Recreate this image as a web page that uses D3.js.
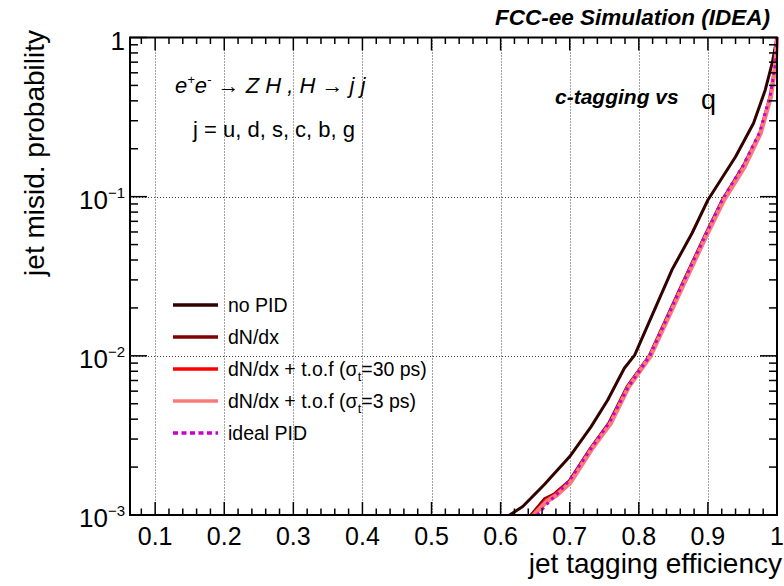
<!DOCTYPE html>
<html>
<head>
<meta charset="utf-8">
<script src="https://cdn.jsdelivr.net/npm/d3@7"></script>
<style>
  body { margin: 0; background: #fff; }
  svg { display: block; font-family: "Liberation Sans", Arial, sans-serif; }
</style>
</head>
<body>
<svg class="js-render-chart" width="784" height="586"></svg>
<script>
"use strict";

//data: [jet tagging efficiency, jet misid. probability]

const noPid = [[0.613, 1.0e-3], [0.632, 1.13e-3], [0.663, 1.55e-3], [0.700, 2.33e-3], [0.731, 3.59e-3], [0.755, 5.28e-3], [0.779, 8.36e-3], [0.794, 1.01e-2], [0.848, 3.47e-2], [0.877, 5.89e-2], [0.900, 9.53e-2], [0.940, 0.178], [0.966, 0.289], [0.983, 0.468], [0.993, 0.689], [1.0, 1.0]];
const dNdx = [[0.644, 1.0e-3], [0.664, 1.27e-3], [0.678, 1.36e-3], [0.699, 1.63e-3], [0.730, 2.62e-3], [0.757, 3.80e-3], [0.783, 6.40e-3], [0.815, 1.0e-2], [0.861, 2.72e-2], [0.895, 5.63e-2], [0.921, 9.55e-2], [0.951, 0.155], [0.975, 0.251], [0.990, 0.425], [0.998, 0.689], [1.0, 1.0]];
const tof30 = [[0.646, 1.0e-3], [0.666, 1.25e-3], [0.679, 1.35e-3], [0.700, 1.62e-3], [0.731, 2.63e-3], [0.758, 3.78e-3], [0.784, 6.41e-3], [0.816, 1.0e-2], [0.862, 2.71e-2], [0.896, 5.61e-2], [0.922, 9.53e-2], [0.952, 0.155], [0.976, 0.250], [0.991, 0.425], [0.998, 0.689], [1.0, 1.0]];
const tof3 = [[0.648, 1.0e-3], [0.667, 1.22e-3], [0.681, 1.33e-3], [0.701, 1.60e-3], [0.732, 2.60e-3], [0.759, 3.75e-3], [0.785, 6.35e-3], [0.817, 1.0e-2], [0.863, 2.70e-2], [0.897, 5.60e-2], [0.923, 9.50e-2], [0.953, 0.154], [0.976, 0.249], [0.991, 0.424], [0.998, 0.688], [1.0, 1.0]];
const idealPid = [[0.653, 1.0e-3], [0.670, 1.21e-3], [0.685, 1.40e-3], [0.701, 1.68e-3], [0.731, 2.62e-3], [0.758, 3.85e-3], [0.784, 6.30e-3], [0.816, 1.0e-2], [0.862, 2.75e-2], [0.896, 5.65e-2], [0.921, 9.6e-2], [0.951, 0.157], [0.975, 0.254], [0.990, 0.43], [0.998, 0.69], [1.0, 1.0]];

const seriesNames = ["no PID", "dN/dx", "dN/dx + t.o.f (σ_t=30 ps)", "dN/dx + t.o.f (σ_t=3 ps)", "ideal PID"];
const seriesData = [noPid, dNdx, tof30, tof3, idealPid];
const seriesColors = ["#330000", "#7f0000", "#ff0000", "#fa7a7a", "#cc00cc"];

const xTicks = [0.1, 0.2, 0.3, 0.4, 0.5, 0.6, 0.7, 0.8, 0.9, 1];
const yTicks = [1e-3, 1e-2, 1e-1, 1];

//params

const m = { l: 130, r: 777, t: 37.5, b: 515 };

const x = d3.scaleLinear().domain([0.0636, 1]).range([m.l, m.r]);
const y = d3.scaleLog().domain([1e-3, 1]).range([m.b, m.t]);

const chart = d3.select(".js-render-chart");

//grid

const grid = chart.append("g")
  .attr("stroke", "#444")
  .attr("stroke-width", 1)
  .attr("stroke-dasharray", "1,2");

grid.selectAll("line.gx")
  .data(xTicks.filter((d) => d < 1))
  .enter()
  .append("line")
  .attr("x1", (d) => Math.round(x(d)) + 0.5)
  .attr("x2", (d) => Math.round(x(d)) + 0.5)
  .attr("y1", m.t)
  .attr("y2", m.b);

grid.selectAll("line.gy")
  .data(yTicks.filter((d) => d > 1e-3 && d < 1))
  .enter()
  .append("line")
  .attr("x1", m.l)
  .attr("x2", m.r)
  .attr("y1", (d) => Math.round(y(d)) + 0.5)
  .attr("y2", (d) => Math.round(y(d)) + 0.5);

//curves

chart.append("clipPath")
  .attr("id", "plot-clip")
  .append("rect")
  .attr("x", m.l)
  .attr("y", m.t - 2)
  .attr("width", m.r - m.l + 2)
  .attr("height", m.b - m.t + 2);

const line = d3.line()
  .x((d) => x(d[0]))
  .y((d) => y(d[1]));

chart.append("g")
  .attr("clip-path", "url(#plot-clip)")
  .selectAll("path")
  .data(seriesData)
  .enter()
  .append("path")
  .attr("d", line)
  .attr("fill", "none")
  .attr("stroke", (d, i) => seriesColors[i])
  .attr("stroke-width", (d, i) => i === 3 ? 4.5 : 3)
  .attr("stroke-dasharray", (d, i) => i === 4 ? "3,4" : null)
  .attr("stroke-linejoin", "round");

//axes

const xAxisMinor = d3.range(0.08, 1.001, 0.02);
const yAxisMinor = [];
[1e-3, 1e-2, 1e-1].forEach((dec) => {
  for (let k = 2; k <= 9; k++) yAxisMinor.push(dec * k);
});

const isMajorX = (d) => Math.abs(d * 10 - Math.round(d * 10)) < 1e-6;

const axes = chart.append("g").attr("stroke", "#000").attr("stroke-width", 1.5);

axes.selectAll("line.xb")
  .data(xAxisMinor)
  .enter()
  .append("line")
  .attr("x1", (d) => x(d))
  .attr("x2", (d) => x(d))
  .attr("y1", m.b)
  .attr("y2", (d) => m.b - (isMajorX(d) ? 13 : 6.5));

axes.selectAll("line.xt")
  .data(xAxisMinor)
  .enter()
  .append("line")
  .attr("x1", (d) => x(d))
  .attr("x2", (d) => x(d))
  .attr("y1", m.t)
  .attr("y2", (d) => m.t + (isMajorX(d) ? 13 : 6.5));

const yTickLen = (d) => yTicks.includes(d) ? 17 : 8;

axes.selectAll("line.yl")
  .data(yAxisMinor.concat(yTicks))
  .enter()
  .append("line")
  .attr("x1", m.l)
  .attr("x2", (d) => m.l + yTickLen(d))
  .attr("y1", (d) => y(d))
  .attr("y2", (d) => y(d));

axes.selectAll("line.yr")
  .data(yAxisMinor.concat(yTicks))
  .enter()
  .append("line")
  .attr("x1", m.r)
  .attr("x2", (d) => m.r - yTickLen(d))
  .attr("y1", (d) => y(d))
  .attr("y2", (d) => y(d));

chart.append("rect")
  .attr("x", m.l)
  .attr("y", m.t)
  .attr("width", m.r - m.l)
  .attr("height", m.b - m.t)
  .attr("fill", "none")
  .attr("stroke", "#000")
  .attr("stroke-width", 2);

//tick labels

chart.append("g")
  .selectAll("text")
  .data(xTicks)
  .enter()
  .append("text")
  .attr("x", (d) => x(d))
  .attr("y", 545)
  .attr("text-anchor", "middle")
  .attr("font-size", 25)
  .text((d) => d3.format("")(d));

const yLabels = chart.append("g")
  .selectAll("text")
  .data(yTicks)
  .enter()
  .append("text")
  .attr("x", 125)
  .attr("y", (d) => y(d) + 12)
  .attr("text-anchor", "end")
  .attr("font-size", 26);

yLabels.filter((d) => d === 1).text("1");

yLabels.filter((d) => d < 1).each(function (d) {
  const t = d3.select(this);
  t.append("tspan").text("10");
  t.append("tspan")
    .attr("font-size", 15)
    .attr("dy", -11)
    .text("−" + Math.round(-Math.log10(d)));
});

//axis titles

chart.append("text")
  .attr("x", 782)
  .attr("y", 573)
  .attr("text-anchor", "end")
  .attr("font-size", 28)
  .text("jet tagging efficiency");

chart.append("text")
  .attr("transform", "translate(44,30) rotate(-90)")
  .attr("text-anchor", "end")
  .attr("font-size", 28)
  .text("jet misid. probability");

//annotations

chart.append("text")
  .attr("x", 770)
  .attr("y", 25)
  .attr("text-anchor", "end")
  .attr("font-size", 22.5)
  .attr("font-weight", "bold")
  .attr("font-style", "italic")
  .text("FCC-ee Simulation (IDEA)");

chart.append("text")
  .attr("x", 555)
  .attr("y", 104)
  .attr("font-size", 21)
  .attr("font-weight", "bold")
  .attr("font-style", "italic")
  .text("c-tagging vs");

chart.append("text")
  .attr("x", 701)
  .attr("y", 109)
  .attr("font-size", 27)
  .text("q");

const proc = chart.append("text")
  .attr("x", 175)
  .attr("y", 93)
  .attr("font-size", 22)
  .attr("font-style", "italic");
proc.append("tspan").text("e");
proc.append("tspan").attr("font-size", 13).attr("dy", -9).text("+");
proc.append("tspan").attr("dy", 9).text("e");
proc.append("tspan").attr("font-size", 13).attr("dy", -9).text("-");
proc.append("tspan").attr("dy", 9).attr("font-style", "normal").text(" → ");
proc.append("tspan").text("Z H , H ");
proc.append("tspan").attr("font-style", "normal").text("→ ");
proc.append("tspan").text("j j");

chart.append("text")
  .attr("x", 193)
  .attr("y", 137)
  .attr("font-size", 22)
  .text("j = u, d, s, c, b, g");

//legend

const legend = chart.append("g")
  .selectAll("g")
  .data(seriesNames)
  .enter()
  .append("g")
  .attr("transform", (d, i) => `translate(0,${305 + i * 32})`);

legend.append("line")
  .attr("x1", 173)
  .attr("x2", 218)
  .attr("stroke", (d, i) => seriesColors[i])
  .attr("stroke-width", 3.5)
  .attr("stroke-dasharray", (d, i) => i === 4 ? "5,3.5" : null);

legend.append("text")
  .attr("x", 228)
  .attr("y", 7)
  .attr("font-size", 19.5)
  .each(function (d) {
    const t = d3.select(this);
    const parts = d.split("_");
    if (parts.length === 1) {
      t.text(d);
      return;
    }
    t.append("tspan").text(parts[0]);
    t.append("tspan").attr("font-size", 13).attr("dy", 5).text(parts[1][0]);
    t.append("tspan").attr("dy", -5).text(parts[1].slice(1));
  });
</script>
</body>
</html>
